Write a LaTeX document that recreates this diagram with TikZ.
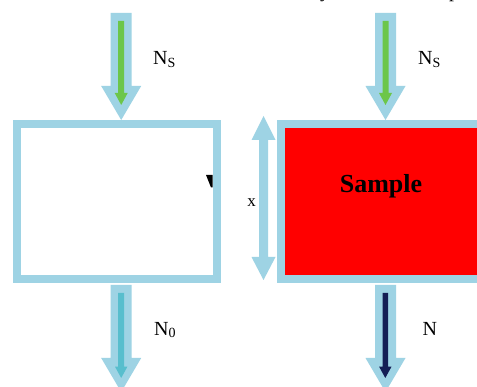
\documentclass[tikz,border=0pt]{standalone}
\usepackage{fontspec}
\setmainfont{Liberation Serif}
\definecolor{frameblue}{RGB}{158,211,228}
\definecolor{arrowgreen}{RGB}{108,198,74}
\definecolor{arrowteal}{RGB}{88,190,205}
\definecolor{arrownavy}{RGB}{20,30,85}
\newcommand\blockdown[7]{\fill[#7] ({#1-#3},#2) -- ({#1+#3},#2) -- ({#1+#3},#4) -- ({#1+#5},#4) -- (#1,#6) -- ({#1-#5},#4) -- ({#1-#3},#4) -- cycle;}
\newcommand\lowsub[1]{\raisebox{-2.5pt}{\fontsize{14}{14}\selectfont #1}}
\tikzset{
  lab/.style={anchor=base west, inner sep=0pt, font=\fontsize{20}{24}\selectfont},
  boxframe/.style={draw=frameblue, line width=8pt},
}
\begin{document}
\begin{tikzpicture}[x=1pt,y=-1pt]
\useasboundingbox (0,0) rectangle (477,387);
\clip (0,0) rectangle (477,387);
\fill[white] (0,0) rectangle (477,387);
% fragments of text cut by the top edge
\node[lab] (fy) at (320,-2.8) {y};
\node[lab] (fp) at (449,-2.8) {p};
% boxes
\draw[boxframe, fill=white] (16.5,124) rectangle (216.5,279.5);
\fill[black] (206,175) -- (212.6,175) -- (212.6,187.5) -- (211,187.5) -- cycle;
\draw[boxframe, fill=red] (280.5,124) rectangle (520,279);
\node[anchor=base, inner sep=0pt, font=\fontsize{26}{30}\selectfont\bfseries] (sample) at (381,193) {Sample};
% top arrows
\blockdown{121.2}{13}{10.5}{86}{20}{120}{frameblue}
\blockdown{121.2}{21}{3}{93}{6.5}{105}{arrowgreen}
\blockdown{385.5}{13}{10.5}{86}{20}{120}{frameblue}
\blockdown{385.5}{21}{3}{93}{6.5}{105}{arrowgreen}
% bottom arrows
\blockdown{121.2}{285}{10.5}{358}{20}{392}{frameblue}
\blockdown{121.2}{293}{3}{366.7}{6.2}{378}{arrowteal}
\blockdown{385.5}{285}{10.5}{358}{20}{392}{frameblue}
\blockdown{385.3}{293}{2.7}{366.7}{6.2}{378}{arrownavy}
% thickness arrow
\fill[frameblue] (263.5,116) -- (275.5,140) -- (268,140) -- (268,257) -- (275.5,257) -- (263.5,280) -- (251.5,257) -- (259,257) -- (259,140) -- (251.5,140) -- cycle;
% labels
\node[lab] (ns1) at (153,65) {N\lowsub{S}};
\node[lab] (ns2) at (418,65) {N\lowsub{S}};
\node[lab] (n0) at (154,335.5) {N\lowsub{0}};
\node[lab] (n) at (422.5,336) {N};
\node[anchor=base, inner sep=0pt, font=\fontsize{17}{20}\selectfont] (xl) at (251.7,207) {x};
\end{tikzpicture}
\end{document}
